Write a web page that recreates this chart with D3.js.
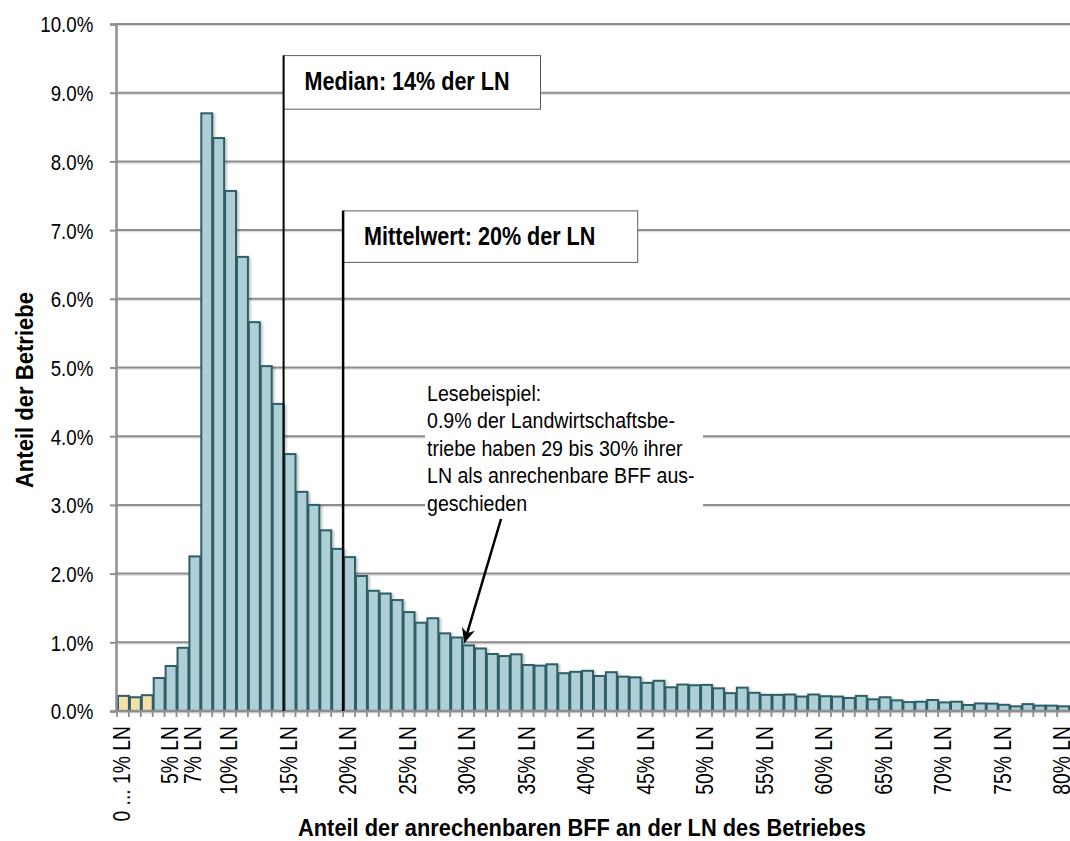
<!DOCTYPE html>
<html>
<head>
<meta charset="utf-8">
<script src="https://cdn.jsdelivr.net/npm/d3@7"></script>
<style>
  html, body { margin: 0; padding: 0; background: #fff; }
  svg { display: block; }
  text { font-family: 'Liberation Sans', Arial, sans-serif; fill: #000; }
</style>
</head>
<body>
<svg id="chart" width="1070" height="841"></svg>
<script>
// ---- data ----
const categories = [
  "0 ... 1% LN","2% LN","3% LN","4% LN","5% LN","6% LN","7% LN","8% LN","9% LN","10% LN",
  "11% LN","12% LN","13% LN","14% LN","15% LN","16% LN","17% LN","18% LN","19% LN","20% LN",
  "21% LN","22% LN","23% LN","24% LN","25% LN","26% LN","27% LN","28% LN","29% LN","30% LN",
  "31% LN","32% LN","33% LN","34% LN","35% LN","36% LN","37% LN","38% LN","39% LN","40% LN",
  "41% LN","42% LN","43% LN","44% LN","45% LN","46% LN","47% LN","48% LN","49% LN","50% LN",
  "51% LN","52% LN","53% LN","54% LN","55% LN","56% LN","57% LN","58% LN","59% LN","60% LN",
  "61% LN","62% LN","63% LN","64% LN","65% LN","66% LN","67% LN","68% LN","69% LN","70% LN",
  "71% LN","72% LN","73% LN","74% LN","75% LN","76% LN","77% LN","78% LN","79% LN","80% LN"
];
const shares = [
  0.22, 0.20, 0.23, 0.48, 0.655, 0.92, 2.25, 8.70, 8.34, 7.57,
  6.61, 5.66, 5.02, 4.47, 3.74, 3.19, 3.00, 2.63, 2.36, 2.24,
  1.965, 1.75, 1.71, 1.615, 1.44, 1.285, 1.35, 1.13, 1.07, 0.955,
  0.91, 0.83, 0.80, 0.825, 0.67, 0.66, 0.68, 0.55, 0.57, 0.585,
  0.51, 0.565, 0.50, 0.49, 0.41, 0.44, 0.345, 0.385, 0.375, 0.38,
  0.33, 0.26, 0.34, 0.265, 0.235, 0.235, 0.24, 0.21, 0.24, 0.215,
  0.21, 0.19, 0.22, 0.17, 0.20, 0.155, 0.13, 0.135, 0.16, 0.125,
  0.135, 0.087, 0.11, 0.107, 0.09, 0.068, 0.10, 0.078, 0.078, 0.068
];
const highlighted = ["0 ... 1% LN","2% LN","3% LN"];   // yellow bars
const xTickLabels = ["0 ... 1% LN","5% LN","7% LN","10% LN","15% LN","20% LN","25% LN","30% LN",
  "35% LN","40% LN","45% LN","50% LN","55% LN","60% LN","65% LN","70% LN","75% LN","80% LN"];
const yTicks = [0,1,2,3,4,5,6,7,8,9,10];
const markers = [
  {label: "Median: 14% der LN", at: "15% LN", boxRight: "36% LN", boxTop: 9.54, boxBottom: 8.76},
  {label: "Mittelwert: 20% der LN", at: "20% LN", boxRight: "44% LN", boxTop: 7.28, boxBottom: 6.53}
];
const noteLines = ["Lesebeispiel:", "0.9% der Landwirtschaftsbe-", "triebe haben 29 bis 30% ihrer",
  "LN als anrechenbare BFF aus-", "geschieden"];
const noteTarget = "30% LN";
const yTitle = "Anteil der Betriebe";
const xTitle = "Anteil der anrechenbaren BFF an der LN des Betriebes";

(function draw() {
const svg = d3.select("#chart");
const pL = 117, pR = 1069, pT = 24, pB = 711;
const x = d3.scaleBand().domain(categories).range([pL, pR]).padding(0);
const y = d3.scaleLinear().domain([0, 10]).range([pB, pT]);
const bw = x.bandwidth();

const defs = svg.append("defs");
const f = defs.append("filter").attr("id", "shadow").attr("x", "-20%").attr("y", "-20%").attr("width", "150%").attr("height", "150%");
f.append("feDropShadow").attr("dx", 2).attr("dy", 1).attr("stdDeviation", 1.2).attr("flood-color", "#000").attr("flood-opacity", 0.22);
const ah = defs.append("marker").attr("id", "arrow").attr("viewBox", "0 0 10 10").attr("refX", 8).attr("refY", 5)
  .attr("markerWidth", 6).attr("markerHeight", 6).attr("orient", "auto-start-reverse");
ah.append("path").attr("d", "M0,0.5 L10,5 L0,9.5 L3,5 Z").attr("fill", "#000");

// gridlines
const grid = svg.append("g");
grid.selectAll("line.gs").data(yTicks.slice(1)).join("line").attr("class", "gs")
  .attr("x1", pL - 1).attr("x2", 1070).attr("y1", d => y(d) + 1.5).attr("y2", d => y(d) + 1.5)
  .attr("stroke", "#dcdcdc").attr("stroke-width", 1.5);
grid.selectAll("line.g").data(yTicks.slice(1)).join("line").attr("class", "g")
  .attr("x1", pL - 1).attr("x2", 1070).attr("y1", d => y(d)).attr("y2", d => y(d))
  .attr("stroke", "#8e8e8e").attr("stroke-width", 2);

// note background box (interrupts gridlines)
const noteX = 426, noteY0 = 400.7, noteLH = 27.5;
svg.append("rect").attr("x", noteX - 1).attr("y", noteY0 - 20).attr("width", 278)
  .attr("height", noteLH * (noteLines.length - 1) + 28).attr("fill", "#fff");

// bars
svg.append("g").attr("filter", "url(#shadow)")
  .selectAll("rect").data(categories).join("rect")
  .attr("x", d => x(d) + 1).attr("width", bw - 1)
  .attr("y", (d, i) => y(shares[i])).attr("height", (d, i) => y(0) - y(shares[i]))
  .attr("fill", d => highlighted.includes(d) ? "#f6e2a9" : "#aecfd6")
  .attr("stroke", "#2f5f67").attr("stroke-width", 2);

// y axis
const yAxis = svg.append("g").attr("transform", `translate(${pL - 1},0)`)
  .call(d3.axisLeft(y).tickValues(yTicks).tickSize(6).tickFormat(d => d.toFixed(1) + "%"));
yAxis.select(".domain").attr("stroke", "#8e8e8e").attr("stroke-width", 2.5);
yAxis.selectAll(".tick line").attr("stroke", "#8e8e8e").attr("stroke-width", 2);
yAxis.selectAll(".tick text").attr("x", 0).attr("dy", "0.36em")
  .attr("transform", "translate(-22.7,0) scale(0.85,1)")
  .attr("font-size", 22).attr("font-family", "'Liberation Sans', Arial, sans-serif").attr("fill", "#000");

// x axis
const xAxisG = svg.append("g").attr("transform", `translate(0,${pB})`);
xAxisG.append("line").attr("x1", pL - 2).attr("x2", 1070).attr("y1", 0).attr("y2", 0)
  .attr("stroke", "#8e8e8e").attr("stroke-width", 2.5);
xAxisG.selectAll("line.t").data(categories).join("line").attr("class", "t")
  .attr("x1", d => x(d)).attr("x2", d => x(d)).attr("y1", 0).attr("y2", 6)
  .attr("stroke", "#8e8e8e").attr("stroke-width", 1.8);
xAxisG.selectAll("text").data(xTickLabels).join("text")
  .attr("transform", d => `translate(${x(d) + bw / 2 + 7},15) rotate(-90) scale(0.84,1)`)
  .attr("text-anchor", "end").attr("font-size", 23).text(d => d);

// median / mean lines and boxes
markers.forEach((m, k) => {
  const lx = x(m.at);
  const bx1 = lx, bx2 = x(m.boxRight) + (k === 0 ? 7 : 9);
  svg.append("rect").attr("x", bx1).attr("y", y(m.boxTop)).attr("width", bx2 - bx1)
    .attr("height", y(m.boxBottom) - y(m.boxTop)).attr("fill", "#fff").attr("stroke", "#5a5a5a").attr("stroke-width", 1);
  svg.append("line").attr("x1", lx).attr("x2", lx).attr("y1", y(m.boxTop)).attr("y2", pB)
    .attr("stroke", "#000").attr("stroke-width", k === 0 ? 2 : 2.5);
  svg.append("text")
    .attr("transform", `translate(${lx + 21},${(y(m.boxTop) + y(m.boxBottom)) / 2 + 8}) scale(0.83,1)`)
    .attr("font-size", 26).attr("font-weight", "bold").text(m.label);
});

// note text
svg.append("g").selectAll("text").data(noteLines).join("text")
  .attr("transform", (d, i) => `translate(${noteX + 1},${noteY0 + i * noteLH}) scale(0.89,1)`)
  .attr("font-size", 22).text(d => d);

// arrow
const tx = x(noteTarget) + bw / 2 - 3, ty = y(shares[categories.indexOf(noteTarget)]) - 5;
svg.append("line").attr("x1", 501).attr("y1", 519).attr("x2", tx).attr("y2", ty)
  .attr("stroke", "#000").attr("stroke-width", 2.5).attr("marker-end", "url(#arrow)");

// axis titles
svg.append("text").attr("transform", "translate(33,390) rotate(-90) scale(0.92,1)").attr("text-anchor", "middle")
  .attr("font-size", 24).attr("font-weight", "bold").text(yTitle);
svg.append("text").attr("transform", "translate(582,836) scale(0.95,1)").attr("text-anchor", "middle")
  .attr("font-size", 23).attr("font-weight", "bold").text(xTitle);
})();
</script>
</body>
</html>
